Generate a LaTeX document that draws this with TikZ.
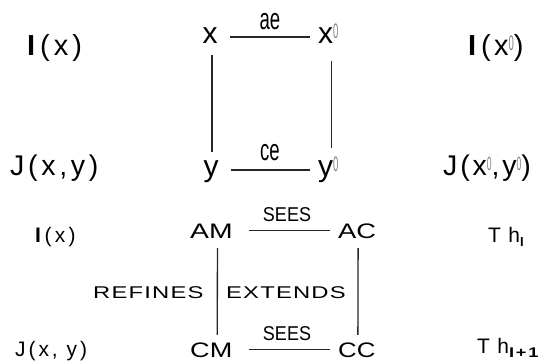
\documentclass[tikz,border=0pt]{standalone}
\usepackage{graphicx}
\usepackage{fontspec}
\setmainfont{Liberation Sans}
\newcommand{\fsz}[1]{\fontsize{#1}{#1}\selectfont}
\newcommand{\hx}[2]{\scalebox{#1}[1]{#2}}
\newcommand{\lsp}[2]{{\addfontfeature{LetterSpace=#1}#2}}
\newcommand{\supz}{\raisebox{5pt}{\fsz{21}\color{black!50}\scalebox{0.45}[1]{0}}}
\newcommand{\supzs}{\raisebox{5pt}{\fsz{19}\color{black!50}\scalebox{0.45}[1]{0}}}
\begin{document}
\begin{tikzpicture}[x=1pt,y=-1pt,
  lbl/.style={inner sep=0pt, anchor=base west},
  toprow/.style={inner sep=0pt, anchor=base, text height=12pt, text depth=0pt, font=\fsz{30}},
  botrow/.style={inner sep=0pt, anchor=base west, text height=15pt, text depth=0pt, font=\fsz{21}},
  conn/.style={line width=1.3pt, draw=black!85}]
\useasboundingbox (0,0) rectangle (558,360);
% ---------- upper diagram ----------
\node[lbl, font=\fsz{29}] (Ix) at (27,55) {\textbf{I}\,\lsp{14}{(x)}};
\node[lbl, font=\fsz{29}] (Ixp) at (468,55) {\textbf{I}\,\lsp{12}{(x\supz)}};
\node[lbl, font=\fsz{28.5}] (Jxy) at (10,175) {\lsp{13}{J(x,y)}};
\node[lbl, font=\fsz{28.5}] (Jxyp) at (443,175) {\lsp{10}{J(x\supzs,y\supzs)}};
\node[toprow] (x) at (210,43) {x};
\node[toprow, anchor=base west] (xp) at (318,43) {x\supz};
\node[toprow] (y) at (211,176) {y};
\node[toprow, anchor=base west] (yp) at (318,176) {y\supz};
\node[inner sep=0pt, anchor=base, font=\fsz{30}] (ae) at (270,29) {\hx{0.62}{ae}};
\node[inner sep=0pt, anchor=base, font=\fsz{30}] (ce) at (270,160) {\hx{0.62}{ce}};
\draw[conn, shorten <=12.5pt, shorten >=8pt] (x) -- (xp);
\draw[conn, shorten <=12.5pt, shorten >=8pt] (y) -- (yp);
\draw[conn, shorten <=12pt, shorten >=12pt] ([xshift=2pt]x.south) -- ([xshift=1pt]y.north);
\draw[conn, shorten <=18pt, shorten >=16pt] ([xshift=3pt]xp.south) -- ([xshift=3pt]yp.north);
% ---------- lower diagram ----------
\node[lbl, font=\fsz{21}] (bIx) at (35,242) {\textbf{I}\,\lsp{16}{(x)}};
\node[lbl, font=\fsz{21}] (bJxy) at (15,356) {\lsp{14}{J(x, y)}};
\node[lbl, font=\fsz{21}] (ThI) at (488,242) {\lsp{35}{Th}\raisebox{-4pt}{\fsz{13}\bfseries I}};
\node[lbl, font=\fsz{21}] (ThIp) at (477,353) {\lsp{35}{Th}\raisebox{-4pt}{\fsz{14}\bfseries\hx{1.3}{\lsp{10}{I+1}}}};
\node[botrow] (AM) at (190,238) {\hx{1.35}{AM}};
\node[botrow] (AC) at (338,238) {\hx{1.3}{AC}};
\node[botrow] (CM) at (190,357) {\hx{1.29}{CM}};
\node[botrow] (CC) at (338,357) {\hx{1.23}{CC}};
\node[inner sep=0pt, anchor=base, font=\fsz{20}] (sees1) at (287,221) {\hx{0.9}{SEES}};
\node[inner sep=0pt, anchor=base, font=\fsz{20}] (sees2) at (287,340) {\hx{0.9}{SEES}};
\node[lbl, font=\fsz{17}] (ref) at (93,298) {\hx{1.4}{\lsp{5}{REFINES}}};
\node[lbl, font=\fsz{17}] (ext) at (226,298) {\hx{1.4}{\lsp{5}{EXTENDS}}};
\draw[conn, shorten <=16pt, shorten >=8pt] (AM) -- (AC);
\draw[conn, shorten <=16pt, shorten >=8pt] (CM) -- (CC);
\draw[conn, shorten <=10pt, shorten >=7pt] ([xshift=6pt]AM.south) -- ([xshift=6pt]CM.north);
\draw[conn, shorten <=10pt, shorten >=7pt] ([xshift=1pt]AC.south) -- ([xshift=1pt]CC.north);
\end{tikzpicture}
\end{document}
